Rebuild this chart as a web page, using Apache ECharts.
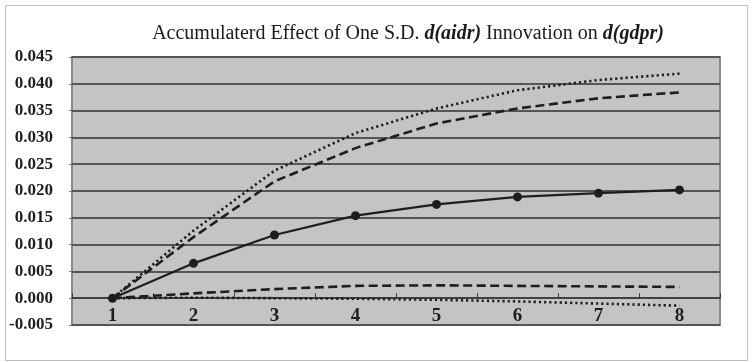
<!DOCTYPE html>
<html>
<head>
<meta charset="utf-8">
<script src="https://cdn.jsdelivr.net/npm/echarts@6/dist/echarts.min.js"></script>
<style>
html,body{margin:0;padding:0;background:#fff;}
#c{width:752px;height:362px;}
</style>
</head>
<body>
<div id="c"></div>
<script>
var categories = ['1','2','3','4','5','6','7','8'];
var effect     = [0, 0.0065, 0.0118, 0.0154, 0.0175, 0.0189, 0.0196, 0.0202];
var upperDash  = [0, 0.0114, 0.0218, 0.0280, 0.0326, 0.0354, 0.0373, 0.0384];
var upperDot   = [0, 0.0126, 0.0238, 0.0308, 0.0354, 0.0388, 0.0407, 0.0419];
var lowerDash  = [0, 0.0009, 0.0017, 0.0023, 0.0024, 0.0023, 0.0022, 0.0021];
var lowerDot   = [0, 0.0001, 0.0000, -0.0001, -0.0003, -0.0006, -0.0010, -0.0014];
var yMin = -0.005, yMax = 0.045, yStep = 0.005;

var chart = echarts.init(document.getElementById('c'));
var serif = '"Liberation Serif","DejaVu Serif",serif';
var lineCol = '#1e1e1e';
function mk(data, type, sym) {
  return {
    type: 'line', data: data, smooth: false,
    symbol: sym ? 'circle' : 'none', symbolSize: 9,
    itemStyle: {color: lineCol},
    lineStyle: {color: lineCol, width: type === 'solid' ? 2.2 : 2.6, type: type},
    z: 3, silent: true, animation: false
  };
}
var dashType = [9, 4.5];
var dotType = [2.2, 3];
chart.setOption({
  animation: false,
  title: {
    text: 'Accumulaterd Effect of One S.D. {i|d(aidr)} Innovation on {i|d(gdpr)}',
    left: 403, textAlign: 'center', top: 19,
    textStyle: {
      fontFamily: serif, fontSize: 20, fontWeight: 'normal', color: '#1a1a1a',
      rich: {i: {fontFamily: serif, fontSize: 20, fontStyle: 'italic', fontWeight: 'bold', color: '#1a1a1a'}}
    }
  },
  graphic: [{
    type: 'rect', shape: {x: 5.5, y: 5.5, width: 742, height: 355},
    style: {fill: 'none', stroke: '#bdbdbd', lineWidth: 1}, z: -1, silent: true
  }],
  grid: {
    left: 72, right: 32, top: 57, bottom: 37,
    show: true, backgroundColor: '#c4c4c6', borderColor: '#8a8a8a', borderWidth: 2
  },
  xAxis: {
    type: 'category', data: categories, boundaryGap: true,
    axisLine: {onZero: true, lineStyle: {color: '#3a3a3a', width: 1.5}},
    axisTick: {show: true, inside: true, length: 5, lineStyle: {color: '#3a3a3a', width: 1}},
    axisLabel: {fontFamily: serif, fontSize: 19, fontWeight: 'bold', color: '#1e1e1e', margin: -18},
    splitLine: {show: false}
  },
  yAxis: {
    type: 'value', min: yMin, max: yMax, interval: yStep,
    axisLine: {show: false},
    axisTick: {show: true, length: 3, lineStyle: {color: '#777'}},
    axisLabel: {
      fontFamily: serif, fontSize: 17, fontWeight: 'bold', color: '#1e1e1e', margin: 19,
      formatter: function (v) { return (Math.round(v * 1000) / 1000).toFixed(3); }
    },
    splitLine: {show: true, lineStyle: {color: '#555', width: 2}}
  },
  series: [
    mk(upperDot, dotType, false),
    mk(upperDash, dashType, false),
    mk(effect, 'solid', true),
    mk(lowerDash, dashType, false),
    mk(lowerDot, dotType, false)
  ]
});
</script>
</body>
</html>
